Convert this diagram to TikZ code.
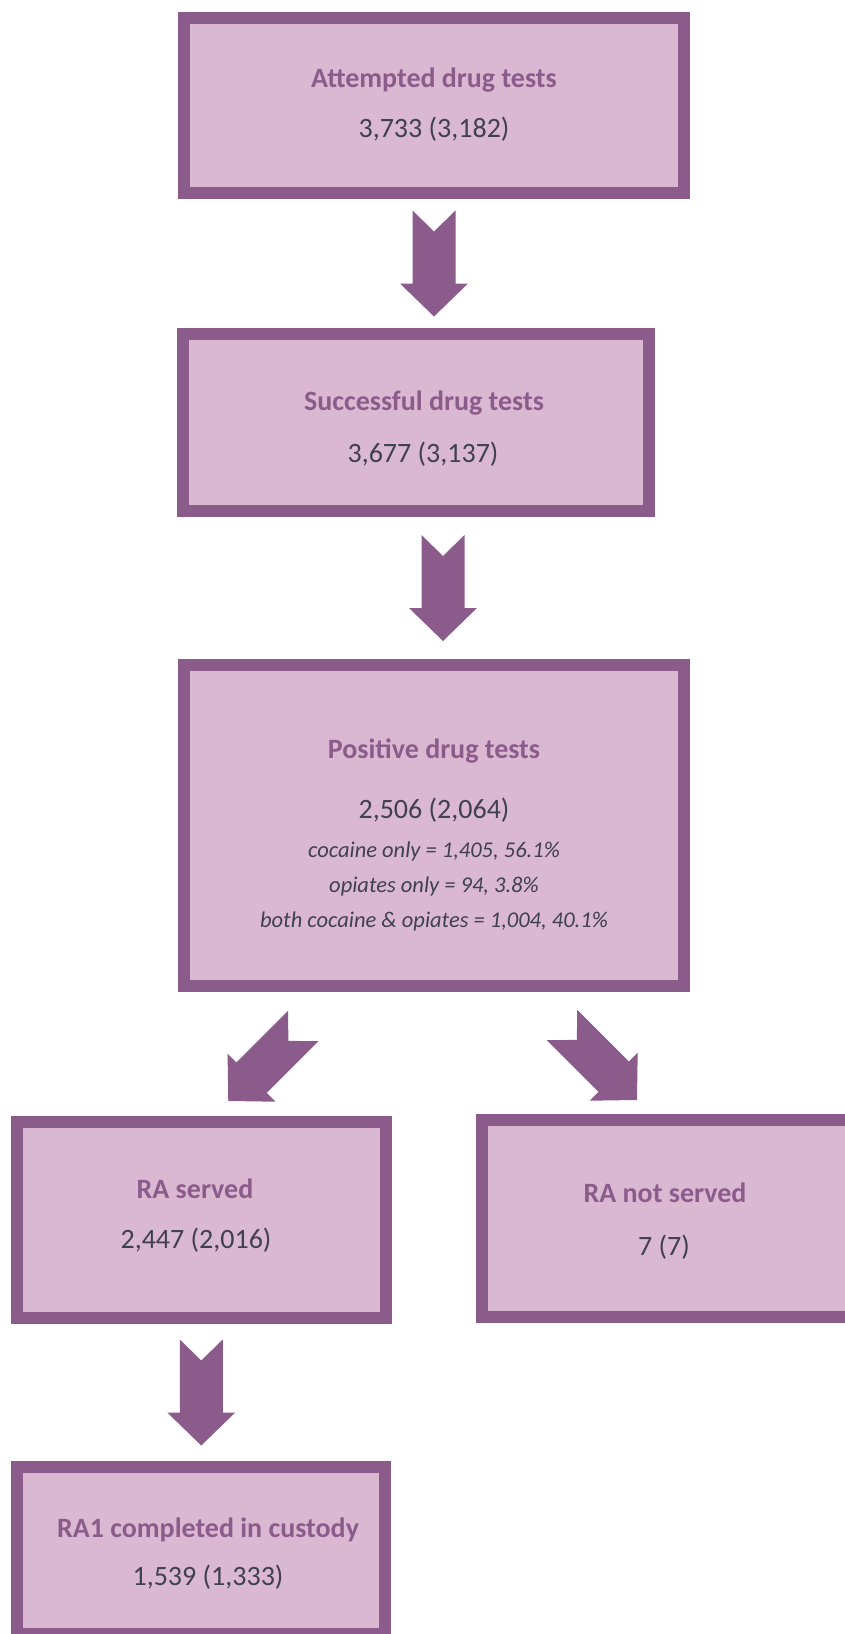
\documentclass[tikz,border=0pt]{standalone}
\usepackage{fontspec}
\setmainfont{Carlito}
\usetikzlibrary{calc}
\definecolor{plum}{HTML}{8B5B8C}
\definecolor{lilac}{HTML}{DBB8D2}
\definecolor{slate}{HTML}{3F4050}
\tikzset{
  stage/.style={draw=plum, fill=lilac, line width=12pt, inner sep=0pt},
  headtext/.style={anchor=base, inner sep=0pt, text=plum, font=\fontsize{28}{34}\selectfont\bfseries},
  numtext/.style={anchor=base, inner sep=0pt, text=slate, font=\fontsize{28}{34}\selectfont},
  notetext/.style={anchor=base, inner sep=0pt, text=slate, font=\fontsize{22.5}{27}\selectfont\itshape},
  bigarrow/.pic={
    \fill[plum] (-21.5,-53) -- (0,-32) -- (21.5,-53) -- (21.5,20) -- (34,20)
      -- (0,53) -- (-34,20) -- (-21.5,20) -- cycle;
  }
}
\begin{document}
\begin{tikzpicture}[x=1pt, y=-1pt]
  \useasboundingbox (0,0) rectangle (845,1634);
  % Boxes
  \node (att) at (434,105.5) [stage, minimum width=500pt, minimum height=175pt] {};
  \node (suc) at (416,422.5) [stage, minimum width=466pt, minimum height=177pt] {};
  \node (pos) at (434,825.5) [stage, minimum width=500pt, minimum height=321pt] {};
  \node (ras) at (201.5,1220) [stage, minimum width=369pt, minimum height=196pt] {};
  \node (rns) at (667,1218.5) [stage, minimum width=370pt, minimum height=197pt] {};
  \node (rac) at (201,1550.5) [stage, minimum width=368pt, minimum height=167pt] {};
  % Texts
  \node (attH) at (434,87) [headtext] {Attempted drug tests};
  \node (attN) at (434,137) [numtext] {3,733 (3,182)};
  \node (sucH) at (424,410) [headtext] {Successful drug tests};
  \node (sucN) at (423,462) [numtext] {3,677 (3,137)};
  \node (posH) at (434,758) [headtext] {Positive drug tests};
  \node (posN) at (434,818) [numtext] {2,506 (2,064)};
  \node (posA) at (434,857) [notetext] {cocaine only = 1,405, 56.1\%};
  \node (posB) at (434,892) [notetext] {opiates only = 94, 3.8\%};
  \node (posC) at (434,927) [notetext] {both cocaine \& opiates = 1,004, 40.1\%};
  \node (rasH) at (195,1198) [headtext] {RA served};
  \node (rasN) at (196,1248) [numtext] {2,447 (2,016)};
  \node (rnsH) at (665,1202) [headtext] {RA not served};
  \node (rnsN) at (664,1255) [numtext] {7 (7)};
  \node (racH) at (208,1537) [headtext] {RA1 completed in custody};
  \node (racN) at (208,1585) [numtext] {1,539 (1,333)};
  % Arrows
  \pic at ($(att.south)!.5!(suc.north -| att.south)$) {bigarrow};
  \pic at ($(suc.south -| pos.north)!.5!(pos.north)+(9,0)$) {bigarrow};
  \pic[rotate=-45] at ($(pos.south)!.5!(ras.north)+(-52,9.5)$) {bigarrow};
  \pic[rotate=45] at ($(pos.south)!.5!(rns.north)+(49,9.5)$) {bigarrow};
  \pic at ($(ras.south)!.5!(rac.north)$) {bigarrow};
\end{tikzpicture}
\end{document}
